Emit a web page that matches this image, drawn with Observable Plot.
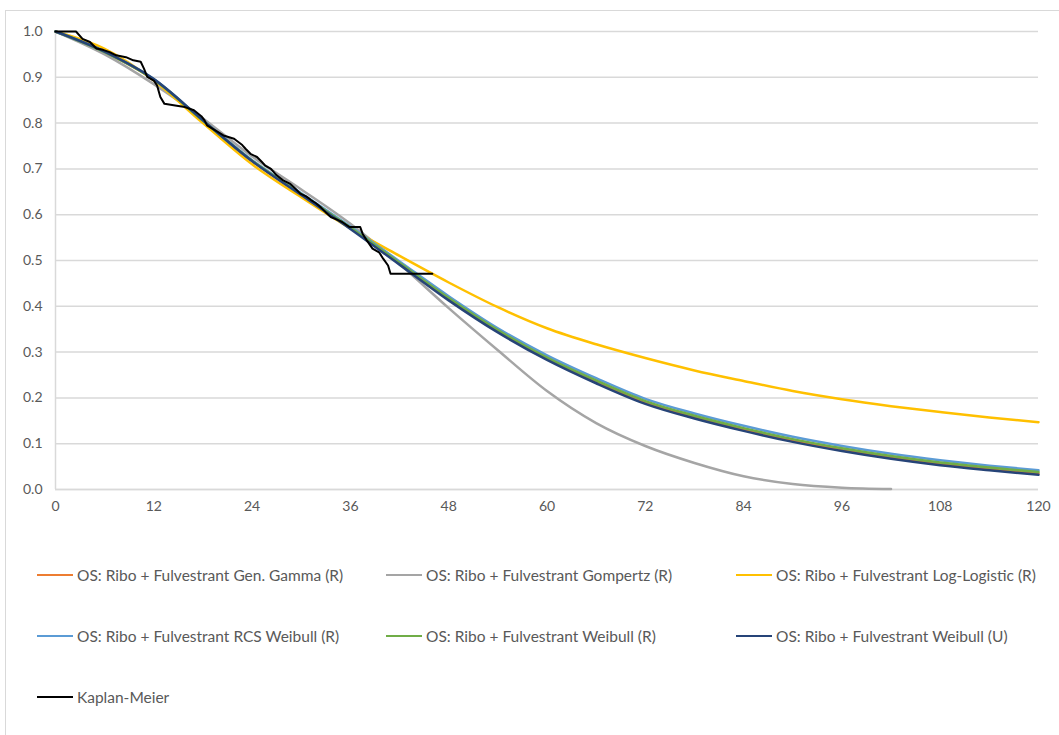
<!DOCTYPE html>
<html><head><meta charset="utf-8">
<script src="https://cdn.jsdelivr.net/npm/d3@7"></script>
<script src="https://cdn.jsdelivr.net/npm/@observablehq/plot@0.6"></script>
<style>
body{margin:0;background:#fff;font-family:Lato,"Liberation Sans",sans-serif;}
#wrap{position:relative;width:1059px;height:735px;overflow:hidden;background:#fff;}
#frame{position:absolute;left:5px;top:10px;width:1060px;height:730px;border-left:1px solid #d9d9d9;border-top:1px solid #d9d9d9;}
#chart{position:absolute;left:0;top:0;}
.leg{position:absolute;height:20px;display:flex;align-items:center;font-size:15.5px;color:#595959;white-space:nowrap;}
.sw{display:inline-block;height:2.5px;margin-right:4px;}
</style></head>
<body><div id="wrap"><div id="frame"></div><div id="chart"></div><div id="legend"></div></div>
<script>
// ---- data ----
const xTicks = [0, 12, 24, 36, 48, 60, 72, 84, 96, 108, 120];
const yTicks = [0, 0.1, 0.2, 0.3, 0.4, 0.5, 0.6, 0.7, 0.8, 0.9, 1.0];

const months = [0, 6, 12, 18, 24, 30, 36, 42, 48, 54, 60, 66, 72, 78, 84, 90, 96, 102, 108, 114, 120];

const genGamma    = [1.000,0.955,0.895,0.805,0.717,0.644,0.571,0.494,0.416,0.346,0.286,0.236,0.191,0.158,0.131,0.107,0.087,0.070,0.056,0.045,0.035];
const gompertz    = [1.000,0.950,0.885,0.810,0.727,0.655,0.580,0.492,0.396,0.304,0.215,0.145,0.095,0.058,0.029,0.012,0.004,0.001,null,null,null];
const logLogistic = [1.000,0.962,0.893,0.800,0.710,0.638,0.570,0.510,0.452,0.398,0.352,0.317,0.287,0.260,0.237,0.215,0.197,0.182,0.169,0.157,0.147];
const rcsWeibull  = [1.000,0.956,0.896,0.806,0.719,0.647,0.574,0.498,0.422,0.352,0.293,0.243,0.198,0.166,0.139,0.115,0.095,0.078,0.064,0.052,0.042];
const weibullR    = [1.000,0.955,0.895,0.805,0.718,0.645,0.572,0.495,0.418,0.348,0.288,0.238,0.193,0.161,0.134,0.110,0.090,0.073,0.059,0.048,0.038];
const weibullU    = [1.000,0.956,0.896,0.806,0.717,0.643,0.569,0.491,0.413,0.343,0.283,0.232,0.187,0.155,0.128,0.104,0.084,0.067,0.053,0.042,0.032];

const kmTime = [0,2.5,3.3,4.2,5.0,5.8,6.6,7.4,8.6,9.5,10.4,10.8,11.2,12.0,12.4,12.8,13.3,14.8,15.8,16.9,17.8,18.2,18.5,19.5,20.5,21.8,22.8,23.2,23.8,24.6,25.2,25.6,26.3,27.0,27.8,28.6,29.1,29.9,30.6,31.2,31.8,32.4,33.0,33.6,34.5,35.0,35.9,37.2,37.5,38.0,38.7,39.5,40.0,40.6,40.9,46.0];
const kmSurv = [1.000,1.000,0.984,0.977,0.963,0.960,0.955,0.948,0.944,0.937,0.934,0.919,0.901,0.893,0.882,0.857,0.842,0.838,0.835,0.828,0.815,0.806,0.795,0.784,0.773,0.766,0.752,0.744,0.733,0.726,0.715,0.707,0.700,0.686,0.675,0.668,0.660,0.646,0.640,0.632,0.625,0.616,0.605,0.595,0.588,0.584,0.573,0.573,0.558,0.544,0.526,0.518,0.504,0.489,0.471,0.471];

const seriesNames = [
  "OS: Ribo + Fulvestrant Gen. Gamma (R)",
  "OS: Ribo + Fulvestrant Gompertz (R)",
  "OS: Ribo + Fulvestrant Log-Logistic (R)",
  "OS: Ribo + Fulvestrant RCS Weibull (R)",
  "OS: Ribo + Fulvestrant Weibull (R)",
  "OS: Ribo + Fulvestrant Weibull (U)",
  "Kaplan-Meier"
];
const seriesColors = ["#ED7D31", "#A5A5A5", "#FFC000", "#5B9BD5", "#70AD47", "#264478", "#000000"];

// ---- build ----
const modelArrays = [genGamma, gompertz, logLogistic, rcsWeibull, weibullR, weibullU];
const modelData = modelArrays.map(arr => months.map((m, i) => ({t: m, s: arr[i]})));
const kmData = kmTime.map((t, i) => ({t, s: kmSurv[i]}));

const fontFam = "Lato, 'Liberation Sans', sans-serif";
const chart = Plot.plot({
  width: 1059, height: 530,
  marginLeft: 55, marginRight: 21, marginTop: 31, marginBottom: 41,
  style: {fontFamily: fontFam, fontSize: "14px", color: "#595959", background: "transparent"},
  x: {domain: [0, 120], ticks: xTicks, tickSize: 0, tickPadding: 12, label: null},
  y: {domain: [0, 1], ticks: yTicks, tickFormat: d3.format(".1f"), tickSize: 0, tickPadding: 13, label: null},
  marks: [
    Plot.gridY(yTicks, {stroke: "#d9d9d9", strokeOpacity: 1, strokeWidth: 1.5}),
    Plot.ruleX([0], {stroke: "#d9d9d9", strokeWidth: 1.5}),
    Plot.ruleY([0], {stroke: "#d9d9d9", strokeWidth: 1.5}),
    ...modelData.map((d, i) => Plot.line(d, {x: "t", y: "s", curve: "monotone-x", stroke: seriesColors[i], strokeWidth: 2.5})),
    Plot.line(kmData, {x: "t", y: "s", curve: "linear", stroke: seriesColors[6], strokeWidth: 2})
  ]
});
document.getElementById("chart").appendChild(chart);

// ---- legend ----
const legPos = [
  {x: 37, y: 575}, {x: 386, y: 575}, {x: 736, y: 575},
  {x: 37, y: 636}, {x: 386, y: 636}, {x: 736, y: 636},
  {x: 37, y: 697}
];
const legend = document.getElementById("legend");
seriesNames.forEach((name, i) => {
  const p = legPos[i];
  const item = document.createElement("div");
  item.className = "leg";
  item.style.left = p.x + "px";
  item.style.top = (p.y - 10) + "px";
  const sw = document.createElement("span");
  sw.className = "sw";
  sw.style.width = "36px";
  sw.style.background = seriesColors[i];
  const tx = document.createElement("span");
  tx.textContent = name;
  item.appendChild(sw);
  item.appendChild(tx);
  legend.appendChild(item);
});
</script>
</body></html>
